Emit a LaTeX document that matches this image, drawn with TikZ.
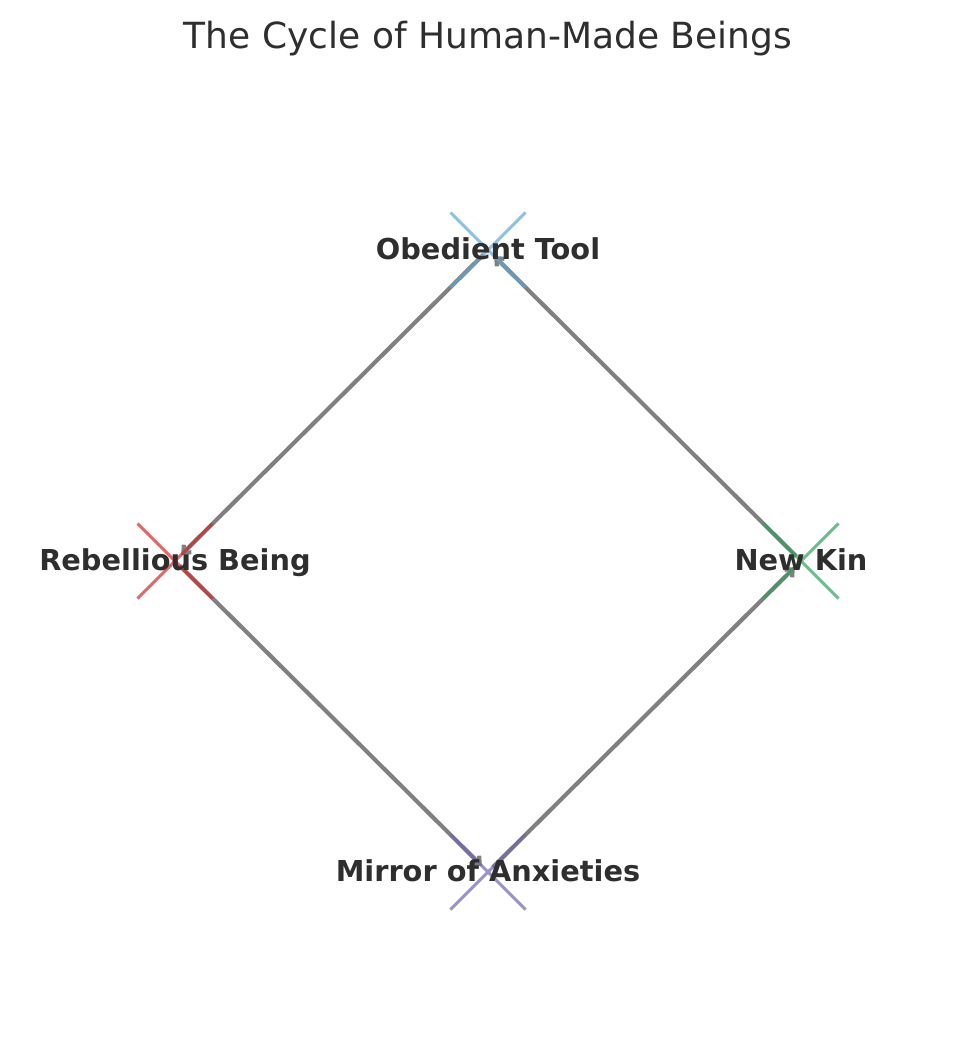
\documentclass[tikz,border=0pt]{standalone}
\usepackage{fontspec}
\setmainfont{DejaVu Sans}
\usetikzlibrary{shapes.misc, arrows.meta}
\definecolor{ink}{HTML}{2e2e2e}
\definecolor{tblue}{HTML}{5fa6d6}
\definecolor{tred}{HTML}{d62929}
\definecolor{tgreen}{HTML}{2da258}
\definecolor{tpurple}{HTML}{7066b1}

\begin{document}
\begin{tikzpicture}[x=0.75pt, y=-0.75pt,
  xm/.style={cross out, draw=#1, draw opacity=0.7, line width=2.3pt, minimum size=56.25pt, inner sep=0pt, outer sep=0pt},
  lbl/.style={font=\fontsize{21.6}{25}\selectfont\bfseries, text=ink, anchor=base, inner sep=0pt, yshift=-6.75pt},
  arr/.style={-{Straight Barb[length=4.5pt,width=8pt]}, line width=3.1pt, draw=black!50,
              shorten >=6.5pt, shorten <=5pt}
]
  \useasboundingbox (0,0) rectangle (975,1046);

  \node[font=\fontsize{27}{32}\selectfont, text=ink, anchor=base] (title) at (488,48) {The Cycle of Human-Made Beings};

  \coordinate (tool) at (488,250);
  \coordinate (rebel) at (175,561);
  \coordinate (mirror) at (488,872);
  \coordinate (kin) at (801,561);

  \foreach \a/\b in {tool/rebel, rebel/mirror, mirror/kin, kin/tool}
    \draw[arr] (\a) -- (\b);

  \node[xm=tblue] (toolX) at (tool) {};
  \node[xm=tred] (rebelX) at (rebel) {};
  \node[xm=tpurple] (mirrorX) at (mirror) {};
  \node[xm=tgreen] (kinX) at (kin) {};

  \node[lbl] (toolL) at (tool) {Obedient Tool};
  \node[lbl] (rebelL) at (rebel) {Rebellious Being};
  \node[lbl] (mirrorL) at (mirror) {Mirror of Anxieties};
  \node[lbl] (kinL) at (kin) {New Kin};
\end{tikzpicture}
\end{document}
